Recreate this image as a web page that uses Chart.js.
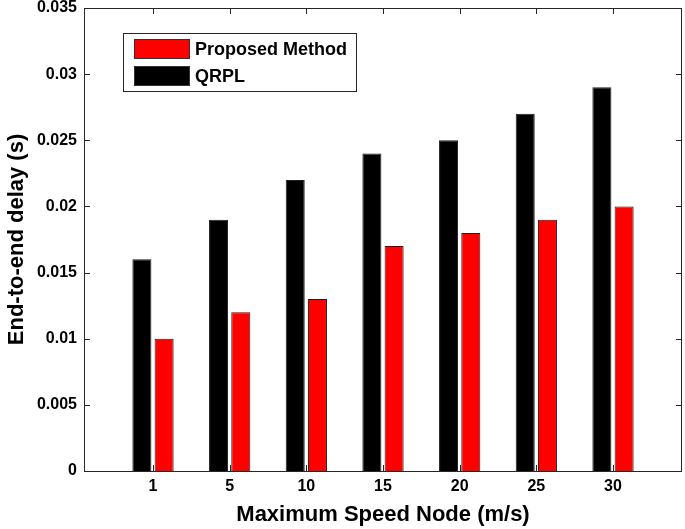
<!DOCTYPE html>
<html>
<head>
<meta charset="utf-8">
<script src="https://cdn.jsdelivr.net/npm/chart.js@4.4.0/dist/chart.umd.min.js"></script>
<style>
  html, body { margin: 0; padding: 0; background: #fff; }
  canvas { display: block; }
</style>
</head>
<body>
<canvas id="myChart" width="685" height="529"></canvas>
<script>
var speeds = ['1', '5', '10', '15', '20', '25', '30'];
var qrplDelay = [0.016, 0.019, 0.022, 0.024, 0.025, 0.027, 0.029];
var proposedDelay = [0.010, 0.012, 0.013, 0.017, 0.018, 0.019, 0.020];
var yTicks = [0, 0.005, 0.01, 0.015, 0.02, 0.025, 0.03, 0.035];
var yTickLabels = ['0', '0.005', '0.01', '0.015', '0.02', '0.025', '0.03', '0.035'];

var font = "'Liberation Sans', Arial, Helvetica, sans-serif";
var axisColor = '#262626';

// bars sit at x = 1..n on a linear axis so the side margins can match the original
function toPoints(values) {
    return values.map(function (v, i) { return { x: i + 1, y: v }; });
}

// inward tick marks, drawn under the bars
var boxTicks = {
    id: 'boxTicks',
    beforeDatasetsDraw: function (chart) {
        var ctx = chart.ctx, a = chart.chartArea;
        var xs = chart.scales.x, ys = chart.scales.y;
        ctx.save();
        ctx.strokeStyle = axisColor;
        ctx.lineWidth = 1;
        ctx.beginPath();
        yTicks.forEach(function (v) {
            var py = Math.round(ys.getPixelForValue(v)) + 0.5;
            ctx.moveTo(a.left, py); ctx.lineTo(a.left + 6, py);
            ctx.moveTo(a.right, py); ctx.lineTo(a.right - 6, py);
        });
        speeds.forEach(function (s, i) {
            var px = Math.round(xs.getPixelForValue(i + 1)) + 0.5;
            ctx.moveTo(px, a.top); ctx.lineTo(px, a.top + 6);
            ctx.moveTo(px, a.bottom); ctx.lineTo(px, a.bottom - 6);
        });
        ctx.stroke();
        ctx.restore();
    },
    afterDatasetsDraw: function (chart) {
        var ctx = chart.ctx, a = chart.chartArea;
        ctx.save();
        ctx.strokeStyle = axisColor;
        ctx.lineWidth = 1;
        ctx.strokeRect(Math.round(a.left) + 0.5, Math.round(a.top) + 0.5,
            Math.round(a.right - a.left) - 1, Math.round(a.bottom - a.top));
        ctx.restore();
    }
};

// MATLAB style legend box in the upper left of the plot
var boxLegend = {
    id: 'boxLegend',
    afterDraw: function (chart) {
        var ctx = chart.ctx, a = chart.chartArea;
        var items = chart.data.datasets.slice().reverse();
        var x = Math.round(a.left) + 39, y = Math.round(a.top) + 25;
        ctx.save();
        ctx.fillStyle = '#fff';
        ctx.fillRect(x, y, 233, 58);
        ctx.strokeStyle = axisColor;
        ctx.lineWidth = 1;
        ctx.strokeRect(x + 0.5, y + 0.5, 233, 58);
        ctx.font = 'bold 18px ' + font;
        ctx.textBaseline = 'middle';
        items.forEach(function (ds, i) {
            var sy = y + 6 + i * 27;
            ctx.fillStyle = ds.backgroundColor;
            ctx.fillRect(x + 11, sy, 56, 20);
            ctx.strokeStyle = '#333';
            ctx.strokeRect(x + 11.5, sy + 0.5, 55, 19);
            ctx.fillStyle = '#000';
            ctx.fillText(ds.label, x + 72, sy + 11);
        });
        ctx.restore();
    }
};

var ctx = document.getElementById('myChart').getContext('2d');
var myChart = new Chart(ctx, {
    type: 'bar',
    data: {
        datasets: [{
            label: 'QRPL',
            data: toPoints(qrplDelay),
            backgroundColor: '#000000',
            borderColor: '#1e1e1e',
            borderWidth: 1
        }, {
            label: 'Proposed Method',
            data: toPoints(proposedDelay),
            backgroundColor: '#ff0000',
            borderColor: '#1e1e1e',
            borderWidth: 1
        }]
    },
    options: {
        responsive: false,
        animation: false,
        categoryPercentage: 0.58,
        barPercentage: 0.856,
        layout: { padding: { left: 0, right: 3, top: 8, bottom: 0 } },
        plugins: {
            legend: { display: false },
            tooltip: { enabled: false }
        },
        scales: {
            x: {
                type: 'linear',
                min: 0.1,
                max: 7.9,
                offset: false,
                grid: { display: false, drawTicks: false },
                border: { display: false },
                afterBuildTicks: function (s) {
                    s.ticks = speeds.map(function (_, i) { return { value: i + 1 }; });
                },
                afterFit: function (s) {
                    s.height = 58;
                    s.paddingLeft = 0;
                    s.paddingRight = 0;
                },
                ticks: {
                    padding: 6,
                    maxRotation: 0,
                    autoSkip: false,
                    color: '#000',
                    font: { family: font, size: 16, weight: 'bold' },
                    callback: function (v) { return speeds[v - 1]; }
                },
                title: {
                    display: true,
                    text: 'Maximum Speed Node (m/s)',
                    color: '#000',
                    font: { family: font, size: 22, weight: 'bold' },
                    padding: { top: 0, bottom: 1 }
                }
            },
            y: {
                min: 0,
                max: 0.035,
                grid: { display: false, drawTicks: false },
                border: { display: false },
                afterBuildTicks: function (s) {
                    s.ticks = yTicks.map(function (v) { return { value: v }; });
                },
                afterFit: function (s) {
                    s.width = 84;
                    s.paddingTop = 0;
                    s.paddingBottom = 0;
                },
                ticks: {
                    padding: 7,
                    color: '#000',
                    font: { family: font, size: 16, weight: 'bold' },
                    callback: function (v, i) { return yTickLabels[i]; }
                },
                title: {
                    display: true,
                    text: 'End-to-end delay (s)',
                    color: '#000',
                    font: { family: font, size: 22, weight: 'bold' },
                    padding: { top: 4, bottom: 0 }
                }
            }
        }
    },
    plugins: [boxTicks, boxLegend]
});
</script>
</body>
</html>
